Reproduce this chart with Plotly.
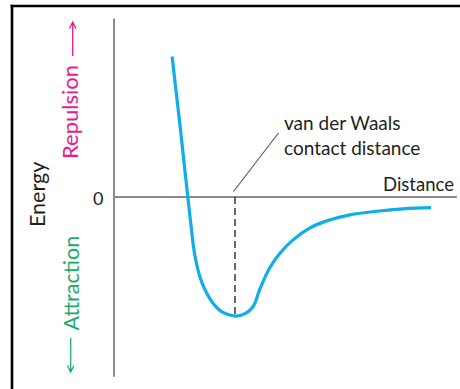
import plotly.graph_objects as go

W, H = 460, 389

# Schematic potential-energy curve (arbitrary units)
distance = [1.44, 1.64, 1.83, 1.91, 2.01, 2.18, 2.45, 2.70, 3.00, 3.25, 3.45,
            3.62, 3.87, 4.12, 4.44, 4.86, 5.28, 5.85, 6.52, 7.17, 7.86]
energy = [1.18, 0.59, 0.00, -0.24, -0.50, -0.72, -0.89, -0.97, -1.00, -0.98, -0.92,
          -0.77, -0.59, -0.47, -0.36, -0.26, -0.20, -0.15, -0.12, -0.10, -0.09]

vdw_distance = 3.0
vdw_energy = -1.0

axis_x_max = 8.50
axis_y_min, axis_y_max = -1.51, 1.50
x_range = [-2.827, 8.579]
y_range = [-1.613, 1.655]

FONT = "Lato"
CYAN = "#10aee8"
MAGENTA = "#ec1a8c"
GREEN = "#1aaa6c"
TEXT = "#231f20"
AXIS = "#8a8a8a"


def px(x):
    return x / W


def py(y):
    return 1 - y / H


fig = go.Figure()

# dashed marker at the van der Waals contact distance
fig.add_trace(go.Scatter(x=[vdw_distance, vdw_distance], y=[0, vdw_energy], mode="lines",
                         line=dict(color="#444444", width=1.6, dash="7px,4px"),
                         hoverinfo="skip", showlegend=False))

# curve
fig.add_trace(go.Scatter(x=distance, y=energy, mode="lines",
                         line=dict(color=CYAN, width=3.2, shape="spline", smoothing=1.2),
                         hoverinfo="skip", showlegend=False))

shapes = [
    # axes
    dict(type="line", xref="x", yref="y", x0=0, x1=axis_x_max, y0=0, y1=0,
         line=dict(color=AXIS, width=2), layer="below"),
    dict(type="line", xref="x", yref="y", x0=0, x1=0, y0=axis_y_min, y1=axis_y_max,
         line=dict(color=AXIS, width=2), layer="below"),
    # frame
    dict(type="line", xref="paper", yref="paper", x0=px(10.5), x1=1, y0=py(6), y1=py(6),
         line=dict(color="black", width=2.6)),
    dict(type="line", xref="paper", yref="paper", x0=px(12), x1=px(12), y0=py(4.8), y1=0,
         line=dict(color="black", width=2.6)),
    # leader line
    dict(type="line", xref="paper", yref="paper", x0=px(233.5), x1=px(278.5), y0=py(191.5), y1=py(133),
         line=dict(color="#555555", width=1.1)),
    # repulsion arrow
    dict(type="path", xref="paper", yref="paper",
         path=f"M {px(72.7)},{py(56)} L {px(72.7)},{py(22)} M {px(69.5)},{py(28.5)} L {px(72.7)},{py(22)} L {px(75.9)},{py(28.5)}",
         line=dict(color=MAGENTA, width=1.3)),
    # attraction arrow
    dict(type="path", xref="paper", yref="paper",
         path=f"M {px(70.7)},{py(338)} L {px(70.7)},{py(372)} M {px(67.5)},{py(365.5)} L {px(70.7)},{py(372)} L {px(73.9)},{py(365.5)}",
         line=dict(color=GREEN, width=1.3)),
]

annotations = [
    dict(text="van der Waals<br>contact distance", x=px(282), y=py(135.5), xref="paper", yref="paper",
         xanchor="left", yanchor="middle", align="left", showarrow=False,
         font=dict(family=FONT, size=19, color=TEXT)),
    dict(text="Distance", x=px(456), y=py(184), xref="paper", yref="paper",
         xanchor="right", yanchor="middle", showarrow=False,
         font=dict(family=FONT, size=18.5, color=TEXT)),
    dict(text="0", x=px(98), y=py(197.5), xref="paper", yref="paper",
         xanchor="center", yanchor="middle", showarrow=False,
         font=dict(family=FONT, size=18, color=TEXT)),
    dict(text="Energy", x=px(37), y=py(195), xref="paper", yref="paper", textangle=-90,
         xanchor="center", yanchor="middle", showarrow=False,
         font=dict(family=FONT, size=21.5, color=TEXT)),
    dict(text="Repulsion", x=px(70), y=py(112), xref="paper", yref="paper", textangle=-90,
         xanchor="center", yanchor="middle", showarrow=False,
         font=dict(family=FONT, size=22, color=MAGENTA)),
    dict(text="Attraction", x=px(70), y=py(283.5), xref="paper", yref="paper", textangle=-90,
         xanchor="center", yanchor="middle", showarrow=False,
         font=dict(family=FONT, size=21.5, color=GREEN)),
]

fig.update_layout(
    width=W, height=H,
    margin=dict(l=0, r=0, t=0, b=0),
    paper_bgcolor="white", plot_bgcolor="white",
    xaxis=dict(range=x_range, visible=False, fixedrange=True),
    yaxis=dict(range=y_range, visible=False, fixedrange=True),
    shapes=shapes, annotations=annotations,
    showlegend=False,
)

fig.write_html("out.html", config={"displayModeBar": False},
               post_script="document.body.style.margin='0';document.body.style.overflow='hidden';")
